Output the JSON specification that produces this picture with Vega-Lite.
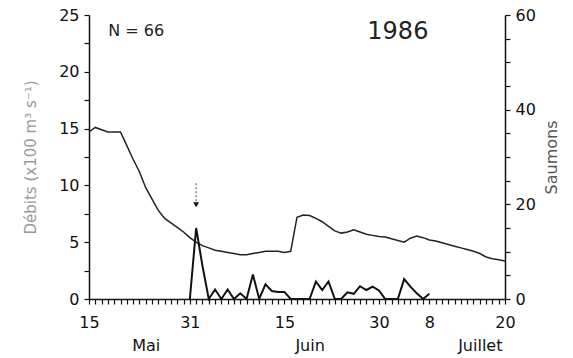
{
  "$schema": "https://vega.github.io/schema/vega-lite/v6.json",
  "width": 416,
  "height": 284,
  "autosize": {"type": "none"},
  "padding": {"left": 89, "top": 15, "right": 68, "bottom": 59},
  "background": "white",
  "config": {
    "view": {"stroke": null},
    "font": "DejaVu Sans",
    "axis": {
      "grid": false,
      "domainColor": "#111",
      "domainWidth": 1.5,
      "tickColor": "#111",
      "tickWidth": 1.2,
      "tickSize": 5,
      "labelColor": "#111",
      "labelFont": "DejaVu Sans",
      "labelFontSize": 16,
      "titleFont": "DejaVu Sans",
      "titleFontWeight": "normal"
    }
  },
  "datasets": {
    "flow": [
      {"date": "1986-05-15", "debit": 14.7}, {"date": "1986-05-16", "debit": 15.1}, {"date": "1986-05-17", "debit": 14.9},
      {"date": "1986-05-18", "debit": 14.7}, {"date": "1986-05-19", "debit": 14.7}, {"date": "1986-05-20", "debit": 14.7},
      {"date": "1986-05-21", "debit": 13.5}, {"date": "1986-05-22", "debit": 12.3}, {"date": "1986-05-23", "debit": 11.2},
      {"date": "1986-05-24", "debit": 9.8}, {"date": "1986-05-25", "debit": 8.8}, {"date": "1986-05-26", "debit": 7.8},
      {"date": "1986-05-27", "debit": 7.1}, {"date": "1986-05-28", "debit": 6.7}, {"date": "1986-05-29", "debit": 6.3},
      {"date": "1986-05-30", "debit": 5.9}, {"date": "1986-05-31", "debit": 5.4}, {"date": "1986-06-01", "debit": 5.0},
      {"date": "1986-06-02", "debit": 4.7}, {"date": "1986-06-03", "debit": 4.5}, {"date": "1986-06-04", "debit": 4.3},
      {"date": "1986-06-05", "debit": 4.2}, {"date": "1986-06-06", "debit": 4.1}, {"date": "1986-06-07", "debit": 4.0},
      {"date": "1986-06-08", "debit": 3.9}, {"date": "1986-06-09", "debit": 3.9}, {"date": "1986-06-10", "debit": 4.0},
      {"date": "1986-06-11", "debit": 4.1}, {"date": "1986-06-12", "debit": 4.2}, {"date": "1986-06-13", "debit": 4.2},
      {"date": "1986-06-14", "debit": 4.2}, {"date": "1986-06-15", "debit": 4.1}, {"date": "1986-06-16", "debit": 4.2},
      {"date": "1986-06-17", "debit": 7.2}, {"date": "1986-06-18", "debit": 7.4}, {"date": "1986-06-19", "debit": 7.35},
      {"date": "1986-06-20", "debit": 7.1}, {"date": "1986-06-21", "debit": 6.8}, {"date": "1986-06-22", "debit": 6.4},
      {"date": "1986-06-23", "debit": 6.0}, {"date": "1986-06-24", "debit": 5.8}, {"date": "1986-06-25", "debit": 5.9},
      {"date": "1986-06-26", "debit": 6.1}, {"date": "1986-06-27", "debit": 5.9}, {"date": "1986-06-28", "debit": 5.7},
      {"date": "1986-06-29", "debit": 5.6}, {"date": "1986-06-30", "debit": 5.5}, {"date": "1986-07-01", "debit": 5.45},
      {"date": "1986-07-02", "debit": 5.3}, {"date": "1986-07-03", "debit": 5.15}, {"date": "1986-07-04", "debit": 5.0},
      {"date": "1986-07-05", "debit": 5.35}, {"date": "1986-07-06", "debit": 5.55}, {"date": "1986-07-07", "debit": 5.4},
      {"date": "1986-07-08", "debit": 5.2}, {"date": "1986-07-09", "debit": 5.1}, {"date": "1986-07-10", "debit": 4.95},
      {"date": "1986-07-11", "debit": 4.8}, {"date": "1986-07-12", "debit": 4.65}, {"date": "1986-07-13", "debit": 4.5},
      {"date": "1986-07-14", "debit": 4.35}, {"date": "1986-07-15", "debit": 4.2}, {"date": "1986-07-16", "debit": 4.0},
      {"date": "1986-07-17", "debit": 3.7}, {"date": "1986-07-18", "debit": 3.55}, {"date": "1986-07-19", "debit": 3.45},
      {"date": "1986-07-20", "debit": 3.35}
    ],
    "fish": [
      {"date": "1986-05-31", "saumons": 0}, {"date": "1986-06-01", "saumons": 15}, {"date": "1986-06-02", "saumons": 7},
      {"date": "1986-06-03", "saumons": 0}, {"date": "1986-06-04", "saumons": 2}, {"date": "1986-06-05", "saumons": 0},
      {"date": "1986-06-06", "saumons": 2}, {"date": "1986-06-07", "saumons": 0}, {"date": "1986-06-08", "saumons": 1.2},
      {"date": "1986-06-09", "saumons": 0}, {"date": "1986-06-10", "saumons": 5.2}, {"date": "1986-06-11", "saumons": 0},
      {"date": "1986-06-12", "saumons": 3.1}, {"date": "1986-06-13", "saumons": 1.7}, {"date": "1986-06-14", "saumons": 1.5},
      {"date": "1986-06-15", "saumons": 1.5}, {"date": "1986-06-16", "saumons": 0}, {"date": "1986-06-17", "saumons": 0},
      {"date": "1986-06-18", "saumons": 0}, {"date": "1986-06-19", "saumons": 0}, {"date": "1986-06-20", "saumons": 3.7},
      {"date": "1986-06-21", "saumons": 1.9}, {"date": "1986-06-22", "saumons": 3.7}, {"date": "1986-06-23", "saumons": 0},
      {"date": "1986-06-24", "saumons": 0}, {"date": "1986-06-25", "saumons": 1.4}, {"date": "1986-06-26", "saumons": 1.1},
      {"date": "1986-06-27", "saumons": 2.7}, {"date": "1986-06-28", "saumons": 1.9}, {"date": "1986-06-29", "saumons": 2.6},
      {"date": "1986-06-30", "saumons": 1.8}, {"date": "1986-07-01", "saumons": 0}, {"date": "1986-07-02", "saumons": 0},
      {"date": "1986-07-03", "saumons": 0}, {"date": "1986-07-04", "saumons": 4.2}, {"date": "1986-07-05", "saumons": 2.6},
      {"date": "1986-07-06", "saumons": 1.2}, {"date": "1986-07-07", "saumons": 0}, {"date": "1986-07-08", "saumons": 1.1}
    ],
    "notes": [
      {"date": "1986-05-22T12:00:00Z", "y": 23.6, "label": "N = 66", "kind": "n"},
      {"date": "1986-07-03T00:00:00Z", "y": 23.5, "label": "1986", "kind": "year"}
    ],
    "arrow": [
      {"date": "1986-06-01", "top": 10.2, "bottom": 8.6, "head": 8.3}
    ]
  },
  "encoding": {
    "x": {
      "field": "date", "type": "temporal",
      "scale": {"type": "utc", "domain": [{"year": 1986, "month": 5, "date": 15, "utc": true}, {"year": 1986, "month": 7, "date": 20, "utc": true}], "nice": false},
      "axis": {
        "title": null,
        "tickCount": {"interval": "day", "step": 1},
        "labelOverlap": false,
        "labelBound": false,
        "labelFlush": false,
        "labelPadding": 10,
        "labelLineHeight": 23,
        "labelExpr": "indexof(['4-15','4-31','5-15','5-30','6-8','6-20'], utcmonth(datum.value) + '-' + utcdate(datum.value)) >= 0 ? '' + utcdate(datum.value) : (utcmonth(datum.value) == 4 && utcdate(datum.value) == 24) ? ['', 'Mai'] : (utcmonth(datum.value) == 5 && utcdate(datum.value) == 19) ? ['', 'Juin'] : (utcmonth(datum.value) == 6 && utcdate(datum.value) == 16) ? ['', 'Juillet'] : ''"
      }
    }
  },
  "layer": [
    {
      "data": {"name": "flow"},
      "mark": {"type": "line", "color": "#222", "strokeWidth": 1.5},
      "encoding": {
        "y": {
          "field": "debit", "type": "quantitative",
          "scale": {"domain": [0, 25], "nice": false},
          "axis": {
            "orient": "left",
            "values": [0, 2.5, 5, 7.5, 10, 12.5, 15, 17.5, 20, 22.5, 25],
            "labelExpr": "datum.value % 5 == 0 ? format(datum.value, 'd') : ''",
            "labelPadding": 5,
            "title": "Débits (x100 m³ s⁻¹)",
            "titleColor": "#999",
            "titleFontSize": 15,
            "titlePadding": 20
          }
        }
      }
    },
    {
      "data": {"name": "fish"},
      "mark": {"type": "line", "color": "#111", "strokeWidth": 2},
      "encoding": {
        "y": {
          "field": "saumons", "type": "quantitative",
          "scale": {"domain": [0, 60], "nice": false},
          "axis": {
            "orient": "right",
            "values": [0, 5, 10, 15, 20, 25, 30, 35, 40, 45, 50, 55, 60],
            "labelExpr": "datum.value % 20 == 0 ? format(datum.value, 'd') : ''",
            "labelPadding": 5,
            "title": "Saumons",
            "titleAngle": 270,
            "titleColor": "#555",
            "titleFontSize": 16,
            "titlePadding": 24
          }
        }
      }
    },
    {
      "data": {"name": "notes"},
      "mark": {"type": "text", "baseline": "middle", "align": "center", "color": "#222"},
      "encoding": {
        "y": {"field": "y", "type": "quantitative", "scale": {"domain": [0, 25], "nice": false}, "axis": null},
        "text": {"field": "label"},
        "size": {"condition": {"test": "datum.kind == 'n'", "value": 16}, "value": 24}
      }
    },
    {
      "data": {"name": "arrow"},
      "mark": {"type": "rule", "color": "#888", "strokeWidth": 1.5, "strokeDash": [2, 2]},
      "encoding": {
        "y": {"field": "top", "type": "quantitative", "scale": {"domain": [0, 25], "nice": false}, "axis": null},
        "y2": {"field": "bottom"}
      }
    },
    {
      "data": {"name": "arrow"},
      "mark": {"type": "point", "shape": "triangle-down", "filled": true, "color": "#111", "size": 35, "opacity": 1},
      "encoding": {
        "y": {"field": "head", "type": "quantitative", "scale": {"domain": [0, 25], "nice": false}, "axis": null}
      }
    }
  ],
  "resolve": {"scale": {"y": "independent"}}
}
